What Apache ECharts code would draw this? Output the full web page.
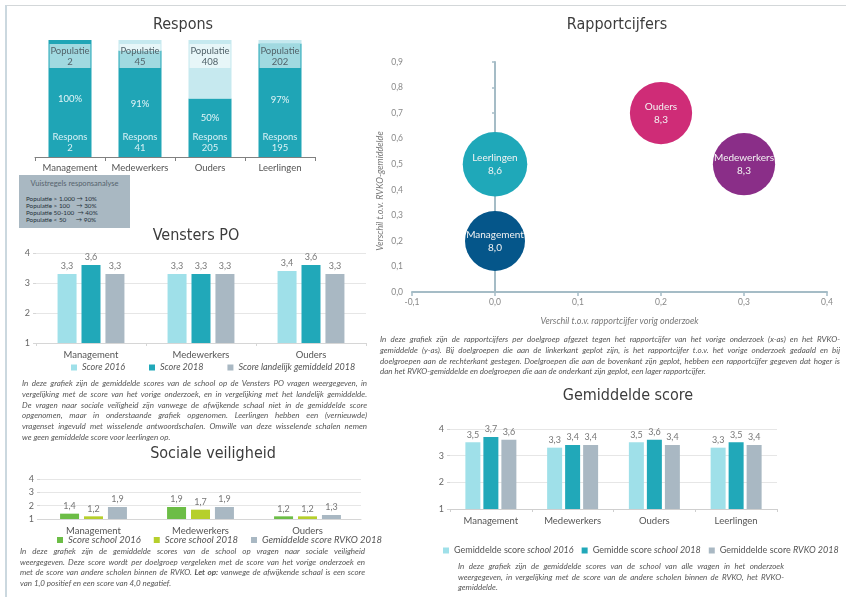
<!DOCTYPE html>
<html>
<head>
<meta charset="utf-8">
<script src="https://cdn.jsdelivr.net/npm/echarts@6/dist/echarts.min.js"></script>
<style>
html, body { margin: 0; padding: 0; background: #fff; }
#wrap { position: relative; width: 846px; height: 597px; overflow: hidden; font-family: Lato, sans-serif; }
#chart { position: absolute; left: 0; top: 0; width: 846px; height: 597px; }
.frame-top { position: absolute; left: 5px; top: 5px; width: 841px; border-top: 1px solid #d3d7d9; }
.frame-left { position: absolute; left: 5px; top: 5px; height: 592px; border-left: 2px solid #cbd8df; }
.para { position: absolute; font-style: italic; font-size: 8px; line-height: 10.8px; color: #555; }
.para div { text-align: justify; text-align-last: justify; white-space: nowrap; }
.para div.last { text-align-last: left; }
.box { position: absolute; left: 19px; top: 175px; width: 111px; height: 53px; background: #a9b8c2; }
.box .head { position: absolute; left: 0; top: 4px; width: 111px; text-align: center; font-size: 7.5px; color: #56646e; }
.box .rules { position: absolute; left: 7px; top: 20px; font-size: 6.3px; line-height: 7px; color: #25313a; white-space: pre; }
</style>
</head>
<body>
<div id="wrap">
  <div id="chart"></div>
  <div class="frame-top"></div>
  <div class="frame-left"></div>
  <div class="box">
    <div class="head">Vuistregels responsanalyse</div>
    <div class="rules">Populatie &gt; 1.000 → 10%
Populatie &gt; 100    → 30%
Populatie 50-100  → 40%
Populatie &lt; 50      → 90%</div>
  </div>
  <div class="para" style="left:22px;top:378px;width:345px">
    <div>In deze grafiek zijn de gemiddelde scores van de school op de Vensters PO vragen weergegeven, in</div>
    <div>vergelijking met de score van het vorige onderzoek, en in vergelijking met het landelijk gemiddelde.</div>
    <div>De vragen naar sociale veiligheid zijn vanwege de afwijkende schaal niet in de gemiddelde score</div>
    <div>opgenomen, maar in onderstaande grafiek opgenomen. Leerlingen hebben een (vernieuwde)</div>
    <div>vragenset ingevuld met wisselende antwoordschalen. Omwille van deze wisselende schalen nemen</div>
    <div class="last">we geen gemiddelde score voor leerlingen op.</div>
  </div>
  <div class="para" style="left:20px;top:546px;width:345px;line-height:10.5px">
    <div>In deze grafiek zijn de gemiddelde scores van de school op vragen naar sociale veiligheid</div>
    <div>weergegeven. Deze score wordt per doelgroep vergeleken met de score van het vorige onderzoek en</div>
    <div>met de score van andere scholen binnen de RVKO. <b>Let op:</b> vanwege de afwijkende schaal is een score</div>
    <div class="last">van 1,0 positief en een score van 4,0 negatief.</div>
  </div>
  <div class="para" style="left:380px;top:334px;width:460px">
    <div>In deze grafiek zijn de rapportcijfers per doelgroep afgezet tegen het rapportcijfer van het vorige onderzoek (x-as) en het RVKO-</div>
    <div>gemiddelde (y-as). Bij doelgroepen die aan de linkerkant geplot zijn, is het rapportcijfer t.o.v. het vorige onderzoek gedaald en bij</div>
    <div>doelgroepen aan de rechterkant gestegen. Doelgroepen die aan de bovenkant zijn geplot, hebben een rapportcijfer gegeven dat hoger is</div>
    <div class="last">dan het RVKO-gemiddelde en doelgroepen die aan de onderkant zijn geplot, een lager rapportcijfer.</div>
  </div>
  <div class="para" style="left:458px;top:561px;width:326px;line-height:10.5px">
    <div>In deze grafiek zijn de gemiddelde scores van de school van alle vragen in het onderzoek</div>
    <div>weergegeven, in vergelijking met de score van de andere scholen binnen de RVKO, het RVKO-</div>
    <div class="last">gemiddelde.</div>
  </div>
</div>
<script>
// Respons
const responsCategories = ['Management', 'Medewerkers', 'Ouders', 'Leerlingen']
const populatie = [2, 45, 408, 202]
const respons = [2, 41, 205, 195]
const responsPct = [100, 91, 50, 97]

// Vensters PO
const vensterCategories = ['Management', 'Medewerkers', 'Ouders']
const vensterScore2016 = [3.3, 3.3, 3.4]
const vensterScore2018 = [3.6, 3.3, 3.6]
const vensterLandelijk2018 = [3.3, 3.3, 3.3]

// Sociale veiligheid
const socialeCategories = ['Management', 'Medewerkers', 'Ouders']
const socialeSchool2016 = [1.4, 1.9, 1.2]
const socialeSchool2018 = [1.2, 1.7, 1.2]
const socialeRvko2018 = [1.9, 1.9, 1.3]

// Rapportcijfers
const rapportGroepen = ['Leerlingen', 'Management', 'Ouders', 'Medewerkers']
const rapportVerschilVorig = [0.0, 0.0, 0.2, 0.3]
const rapportVerschilRvko = [0.5, 0.2, 0.7, 0.5]
const rapportCijfer = [8.6, 8.0, 8.3, 8.3]
const rapportKleuren = ['#1fa8b9', '#05568a', '#cf2c77', '#8a2e88']

// Gemiddelde score
const gemCategories = ['Management', 'Medewerkers', 'Ouders', 'Leerlingen']
const gemSchool2016 = [3.5, 3.3, 3.5, 3.3]
const gemSchool2018 = [3.7, 3.4, 3.6, 3.5]
const gemRvko2018 = [3.6, 3.4, 3.4, 3.4]

const comma = (v, d = 1) => Number(v).toFixed(d).replace('.', ',')
const TITLE_FONT = '16px "DejaVu Sans Condensed", "Liberation Sans Narrow", sans-serif'
const GRAY = '#555'

const titles = [
    { text: 'Respons', x: 183, y: 25 },
    { text: 'Vensters PO', x: 196, y: 236 },
    { text: 'Sociale veiligheid', x: 213, y: 454 },
    { text: 'Rapportcijfers', x: 617, y: 25 },
    { text: 'Gemiddelde score', x: 628, y: 396 }
]

const catAxis = (gridIndex, data, extra) => Object.assign({
    type: 'category', gridIndex, data,
    axisLine: { lineStyle: { color: '#d6d6d6' } },
    axisTick: { show: true, length: 3, lineStyle: { color: '#d6d6d6' } },
    axisLabel: { interval: 0, color: GRAY, fontSize: 9.5, fontFamily: 'Lato', margin: 7 }
}, extra || {})

const scoreAxis = (gridIndex) => ({
    type: 'value', gridIndex, min: 1, max: 4, interval: 1,
    axisLine: { show: false },
    axisTick: { show: true, length: 3, lineStyle: { color: '#d6d6d6' } },
    splitLine: { lineStyle: { color: '#e6e6e6' } },
    axisLabel: { color: '#666', fontSize: 9, fontFamily: 'Lato', margin: 6 }
})

const scoreBar = (name, data, color, idx, width, gap) => ({
    type: 'bar', name, data, xAxisIndex: idx, yAxisIndex: idx,
    barWidth: width, barGap: gap, itemStyle: { color },
    label: { show: true, position: 'top', distance: 3, color: '#777', fontSize: 9, fontFamily: 'Lato', formatter: p => comma(p.value) }
})

const legendBase = {
    icon: 'rect', itemWidth: 6, itemHeight: 6, padding: 0, selectedMode: false,
    textStyle: { color: GRAY, fontSize: 9, fontStyle: 'italic', fontFamily: 'Lato' }
}

const option = {
    backgroundColor: '#fff',
    animation: false,
    textStyle: { fontFamily: 'Lato' },
    graphic: titles.map(t => ({
        type: 'text', x: t.x, y: t.y,
        style: { text: t.text, font: TITLE_FONT, fill: '#3c3c3c', align: 'center', verticalAlign: 'middle' }
    })),
    grid: [
        { left: 35, top: 40, width: 280, height: 117 },
        { left: 36, top: 253, width: 330, height: 90 },
        { left: 40, top: 479, width: 321, height: 40 },
        { left: 412, top: 62, width: 415, height: 230 },
        { left: 450, top: 429, width: 327, height: 80 }
    ],
    legend: [
        Object.assign({}, legendBase, { left: 71, top: 363, itemGap: 24, data: ['Score 2016', 'Score 2018', 'Score landelijk gemiddeld 2018'] }),
        Object.assign({}, legendBase, {
            left: 57, top: 535, itemGap: 13, data: ['Score school 2016', 'Score school 2018', 'Gemiddelde score RVKO 2018'],
            textStyle: { color: GRAY, fontSize: 9.5, fontStyle: 'italic', fontFamily: 'Lato' }
        }),
        Object.assign({}, legendBase, {
            left: 443, top: 546, itemGap: 8, data: ['Gemiddelde score school 2016', 'Gemidde score school 2018', 'Gemiddelde score RVKO 2018 '],
            formatter: name => {
                const m = name.trim().match(/^(.*score) (.*)$/)
                return `{n|${m[1]}} {i|${m[2]}}`
            },
            textStyle: {
                color: GRAY, fontSize: 9, fontFamily: 'Lato',
                rich: { n: { color: GRAY, fontSize: 9 }, i: { color: GRAY, fontSize: 9, fontStyle: 'italic' } }
            }
        })
    ],
    xAxis: [
        catAxis(0, responsCategories, {
            axisLine: { lineStyle: { color: '#808080' } },
            axisTick: { show: true, length: 4, lineStyle: { color: '#808080' } },
            axisLabel: { interval: 0, color: GRAY, fontSize: 9.5, fontFamily: 'Lato', margin: 6 }
        }),
        catAxis(1, vensterCategories),
        catAxis(2, socialeCategories, { axisTick: { show: false } }),
        {
            type: 'value', gridIndex: 3, min: -0.1, max: 0.4, interval: 0.1,
            name: 'Verschil t.o.v. rapportcijfer vorig onderzoek', nameLocation: 'middle', nameGap: 25,
            nameTextStyle: { color: '#777', fontSize: 9, fontStyle: 'italic', fontFamily: 'Lato' },
            axisLine: { onZero: false, lineStyle: { color: '#a5bcc6', width: 2 } },
            axisTick: { show: true, length: 4, lineStyle: { color: '#a5bcc6', width: 1.5 } },
            splitLine: { show: false },
            axisLabel: { color: '#888', fontSize: 8.5, fontFamily: 'Lato', margin: 6, formatter: v => comma(v) }
        },
        catAxis(4, gemCategories, {
            axisLine: { lineStyle: { color: '#cfcfcf' } },
            axisTick: { show: true, length: 3, lineStyle: { color: '#cfcfcf' } }
        })
    ],
    yAxis: [
        { type: 'value', gridIndex: 0, min: 0, max: 100, show: false },
        scoreAxis(1),
        scoreAxis(2),
        {
            type: 'value', gridIndex: 3, min: 0, max: 0.9, interval: 0.1,
            name: 'Verschil t.o.v. RVKO-gemiddelde', nameLocation: 'middle', nameGap: 27, nameRotate: 90,
            nameTextStyle: { color: '#777', fontSize: 9, fontStyle: 'italic', fontFamily: 'Lato', padding: [0, 28, 0, 0] },
            axisLine: { show: false, onZero: false },
            axisTick: { show: false },
            splitLine: { show: false },
            axisLabel: { color: '#888', fontSize: 8.5, fontFamily: 'Lato', margin: 9, formatter: v => comma(v) }
        },
        scoreAxis(4),
        {
            type: 'value', gridIndex: 3, min: 0, max: 0.9, interval: 0.1, position: 'left',
            axisLine: { show: true, onZero: true, lineStyle: { color: '#a5bcc6', width: 2 } },
            axisTick: { show: true, length: 3, lineStyle: { color: '#a5bcc6', width: 1.5 } },
            axisLabel: { show: false },
            splitLine: { show: false }
        }
    ],
    series: [
        // Respons: stacked percentage
        {
            type: 'bar', name: 'Respons %', stack: 'respons', xAxisIndex: 0, yAxisIndex: 0,
            barWidth: 43, barGap: '-100%',
            itemStyle: { color: '#1fa5b6' },
            data: responsPct.map((v, i) => ({
                value: v,
                label: i === 2 ? { offset: [0, -10] } : undefined
            })),
            label: { show: true, position: 'inside', color: '#e4f5f8', fontSize: 9.5, fontFamily: 'Lato', formatter: p => p.value + '%' }
        },
        {
            type: 'bar', name: 'Geen respons', stack: 'respons', xAxisIndex: 0, yAxisIndex: 0,
            barWidth: 43, barGap: '-100%',
            itemStyle: { color: '#c6e9ef' },
            data: responsPct.map(v => 100 - v)
        },
        {
            type: 'bar', name: 'Populatie', xAxisIndex: 0, yAxisIndex: 0,
            barWidth: 43, barGap: '-100%', z: 3,
            itemStyle: { color: 'rgba(0,0,0,0)' },
            data: populatie.map(() => 100),
            label: {
                show: true, position: 'insideTop', distance: 4,
                formatter: p => 'Populatie\n' + populatie[p.dataIndex],
                backgroundColor: 'rgba(255,255,255,0.58)', width: 41, padding: [1, 0, 1, 0],
                align: 'center', color: '#52636a', fontSize: 9.5, lineHeight: 11, fontFamily: 'Lato'
            }
        },
        {
            type: 'bar', name: 'Respons', xAxisIndex: 0, yAxisIndex: 0,
            barWidth: 43, barGap: '-100%', z: 3,
            itemStyle: { color: 'rgba(0,0,0,0)' },
            data: respons.map(() => 100),
            label: {
                show: true, position: 'insideBottom', distance: 4,
                formatter: p => 'Respons\n' + respons[p.dataIndex],
                color: '#d9f1f5', fontSize: 9.5, lineHeight: 11, fontFamily: 'Lato'
            }
        },
        // Vensters PO
        scoreBar('Score 2016', vensterScore2016, '#9fe0e9', 1, 19, '26%'),
        scoreBar('Score 2018', vensterScore2018, '#21a8b9', 1, 19, '26%'),
        scoreBar('Score landelijk gemiddeld 2018', vensterLandelijk2018, '#a9b8c3', 1, 19, '26%'),
        // Sociale veiligheid
        scoreBar('Score school 2016', socialeSchool2016, '#6cbd46', 2, 19, '26%'),
        scoreBar('Score school 2018', socialeSchool2018, '#b6cf2c', 2, 19, '26%'),
        scoreBar('Gemiddelde score RVKO 2018', socialeRvko2018, '#a9b8c3', 2, 19, '26%'),
        // Rapportcijfers
        {
            type: 'scatter', name: 'Rapportcijfers', xAxisIndex: 3, yAxisIndex: 3, z: 5,
            symbolSize: v => v[2] * 7.5,
            data: rapportGroepen.map((g, i) => ({
                name: g,
                value: [rapportVerschilVorig[i], rapportVerschilRvko[i], rapportCijfer[i]],
                itemStyle: { color: rapportKleuren[i], opacity: 1 }
            })),
            label: {
                show: true, position: 'inside', color: '#f3f3f3', fontSize: 10, lineHeight: 13, fontFamily: 'Lato',
                formatter: p => p.name + '\n' + comma(p.value[2])
            }
        },
        // Gemiddelde score
        scoreBar('Gemiddelde score school 2016', gemSchool2016, '#9fe0e9', 4, 15, '20%'),
        scoreBar('Gemidde score school 2018', gemSchool2018, '#21a8b9', 4, 15, '20%'),
        scoreBar('Gemiddelde score RVKO 2018 ', gemRvko2018, '#a9b8c3', 4, 15, '20%')
    ]
}

const chart = echarts.init(document.getElementById('chart'))
chart.setOption(option)
</script>
</body>
</html>
